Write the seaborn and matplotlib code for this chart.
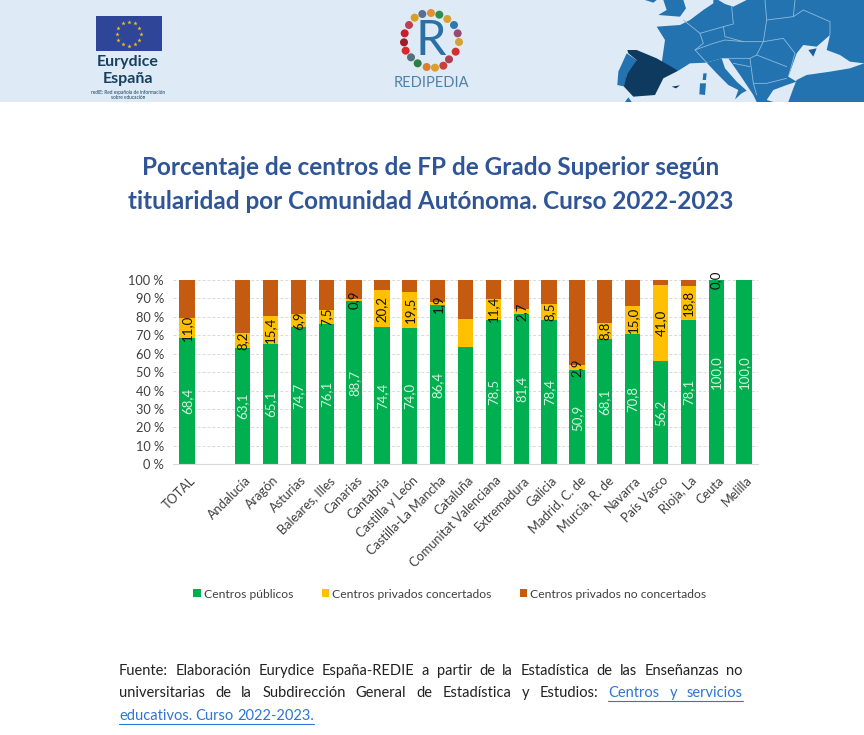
import numpy as np
import pandas as pd
import matplotlib
matplotlib.use("Agg")
import matplotlib.pyplot as plt
import seaborn as sns
from matplotlib.patches import Polygon, Circle, Rectangle
from matplotlib.transforms import ScaledTranslation

# datos
comunidades = ["TOTAL", " ", "Andalucía", "Aragón", "Asturias", "Baleares, Illes", "Canarias",
               "Cantabria", "Castilla y León", "Castilla-La Mancha", "Cataluña",
               "Comunitat Valenciana", "Extremadura", "Galicia", "Madrid, C. de",
               "Murcia, R. de", "Navarra", "País Vasco", "Rioja, La", "Ceuta", "Melilla"]
publicos = [68.4, 0, 63.1, 65.1, 74.7, 76.1, 88.7, 74.4, 74.0, 86.4, 63.8,
            78.5, 81.4, 78.4, 50.9, 68.1, 70.8, 56.2, 78.1, 100.0, 100.0]
concertados = [11.0, 0, 8.2, 15.4, 6.9, 7.5, 0.9, 20.2, 19.5, 1.9, 14.9,
               11.4, 2.7, 8.5, 2.9, 8.8, 15.0, 41.0, 18.8, 0.0, 0.0]
no_concertados = [20.6, 0, 28.7, 19.5, 18.4, 16.4, 10.4, 5.4, 6.5, 11.7, 21.3,
                  10.1, 15.9, 13.1, 46.2, 23.1, 14.2, 2.8, 3.1, 0.0, 0.0]
sin_etiqueta_pub = [" ", "Cataluña"]
sin_etiqueta_con = [" ", "Cataluña", "Melilla"]
ticks_y = list(range(0, 101, 10))

VERDE, AMARILLO, MARRON = "#00B050", "#FFC000", "#C55A11"
AZUL_TITULO = "#2F5597"

df = pd.DataFrame({"com": comunidades, "pub": publicos, "con": concertados, "noc": no_concertados})
df["base2"] = df["pub"] + df["con"]

sns.set_theme(style="white")
plt.rcParams["font.family"] = ["Lato", "DejaVu Sans"]

fig = plt.figure(figsize=(8.64, 7.35), dpi=100)

# capa de fondo en pixeles para cabecera y pie
bg = fig.add_axes([0, 0, 1, 1])
bg.set_xlim(0, 864); bg.set_ylim(735, 0); bg.axis("off")
bg.add_patch(Rectangle((0, 0), 864, 102, color="#DEEAF6", lw=0))

def m(pts):
    # coordenadas del recorte del mapa a pixeles
    return [(600 + x / 3, y / 3) for x, y in pts]

AZ = "#2273B0"
tierra = [
    [(340,0),(792,0),(792,190),(750,185),(720,165),(680,150),(690,105),(650,140),(610,135),(590,160),
     (565,230),(590,245),(560,255),(520,270),(500,300),(520,306),(470,306),(460,285),(420,225),(385,175),
     (365,175),(320,188),(270,190),(235,212),(185,190),(195,120),(170,80),(240,75),(270,60),(310,30),(340,10)],
    [(320,188),(365,175),(375,205),(410,245),(440,272),(425,280),(405,298),(415,270),(385,255),(350,220)],
    [(792,190),(750,205),(690,215),(620,225),(590,240),(580,265),(565,306),(792,306)],
    [(190,0),(250,0),(258,25),(240,50),(175,45),(200,30)],
    [(135,0),(170,0),(160,8)],
    [(80,160),(110,180),(95,210),(80,225),(75,260),(52,255),(55,215)],
    [(310,220),(320,220),(318,240),(308,240)],
    [(300,250),(318,250),(315,285),(298,283)],
    [(75,306),(85,292),(95,306)],
]
for p in tierra:
    bg.add_patch(Polygon(m(p), closed=True, color=AZ, lw=0))
bg.add_patch(Polygon(m([(355,0),(440,0),(400,20),(375,12)]), closed=True, color="#DEEAF6", lw=0))
bg.add_patch(Polygon(m([(625,150),(650,145),(640,170)]), closed=True, color="#1B5F96", lw=0))
bg.add_patch(Polygon(m([(82,150),(110,150),(170,175),(235,212),(190,235),(165,285),(100,290),(72,260),
                        (80,225),(110,180),(85,160)]), closed=True, color="#0F3A5F", lw=0))
bg.add_patch(Polygon(m([(215,260),(240,256),(228,265)]), closed=True, color="#0F3A5F", lw=0))
fronteras = [
    [(250,60),(300,100),(310,130),(285,150),(320,188)],
    [(300,100),(370,80),(400,72),(395,20)],
    [(370,80),(375,110),(430,125),(490,125),(470,165),(450,175),(385,175)],
    [(490,125),(500,60),(580,50),(610,30),(690,65),(690,105)],
    [(500,60),(495,0)], [(580,50),(585,0)], [(490,125),(550,115),(585,160),(565,230)],
    [(470,165),(560,200)], [(285,150),(340,130),(375,120),(430,125)],
    [(450,175),(460,250),(500,250),(560,235)], [(400,190),(450,200)], [(460,250),(470,285)],
]
for f in fronteras:
    xy = np.array(m(f))
    bg.plot(xy[:, 0], xy[:, 1], color="#8DBBDD", lw=0.6)

# logo Eurydice
bg.add_patch(Rectangle((95.5, 16), 66, 35, color="#2E4598", lw=0))
ang = np.deg2rad(np.arange(0, 360, 30))
bg.scatter(128.5 + 12 * np.cos(ang), 33.5 + 12 * np.sin(ang), marker="*", s=11, color="#F0C020", lw=0, zorder=3)
bg.text(128, 62, "Eurydice", ha="center", va="center", fontsize=11.5, fontweight="bold", color="#17405F")
bg.text(128, 78.5, "España", ha="center", va="center", fontsize=11.5, fontweight="bold", color="#17405F")
bg.text(128, 92, "redIE: Red española de información", ha="center", va="center", fontsize=3.4, color="#17405F")
bg.text(128, 97.5, "sobre educación", ha="center", va="center", fontsize=3.4, color="#17405F")

# logo Redipedia
colores_anillo = ["#C8202A", "#A01C2A", "#D8282A", "#54707A", "#2E7D46", "#D88030", "#D8A030", "#C84040",
                  "#B04050", "#D03030", "#D8A030", "#9A4A70", "#2C78B0", "#D8A030", "#2E8C50", "#E09030",
                  "#5A7090", "#D8A020", "#C04050"]
pos_anillo = [(59, 100), (57, 127), (62, 152), (78, 172), (98, 190), (125, 201), (150, 203), (175, 197),
              (192, 178), (212, 155), (222, 126), (218, 100), (207, 75), (187, 57), (163, 44), (138, 39),
              (112, 42), (89, 53), (72, 75)]
for (px, py), c in zip(pos_anillo, colores_anillo):
    bg.add_patch(Circle((385 + px / 3, py / 3), 4, color=c, lw=0))
bg.text(431, 41, "R", ha="center", va="center", fontsize=35, color="#2A6FA5")
bg.text(431, 83, "REDIPEDIA", ha="center", va="center", fontsize=10.5, color="#4F80A8")

# titulo
bg.text(431, 167, "Porcentaje de centros de FP de Grado Superior según", ha="center", va="center",
        fontsize=17.5, fontweight="bold", color=AZUL_TITULO)
bg.text(431, 201, "titularidad por Comunidad Autónoma. Curso 2022-2023", ha="center", va="center",
        fontsize=17.5, fontweight="bold", color=AZUL_TITULO)

# grafico
ax = fig.add_axes([173 / 864, 1 - 464.3 / 735, 585 / 864, 184.3 / 735])
ax.patch.set_alpha(0)
ANCHO = 0.55
sns.barplot(data=df, x="com", y="pub", order=comunidades, color=VERDE, width=ANCHO, saturation=1, linewidth=0,
            errorbar=None, label="Centros públicos", ax=ax, zorder=2)
sns.barplot(data=df, x="com", y="con", order=comunidades, color=AMARILLO, width=ANCHO, saturation=1, linewidth=0,
            errorbar=None, bottom=df["pub"].values, label="Centros privados concertados", ax=ax, zorder=2)
sns.barplot(data=df, x="com", y="noc", order=comunidades, color=MARRON, width=ANCHO, saturation=1, linewidth=0,
            errorbar=None, bottom=df["base2"].values, label="Centros privados no concertados", ax=ax, zorder=2)

ax.set_xlim(-0.5, len(comunidades) - 0.5)
ax.set_ylim(0, 100)
ax.set_yticks(ticks_y)
ax.set_yticklabels([f"{t} %" for t in ticks_y], fontsize=9.2, color="#404040")
ax.set_xlabel(""); ax.set_ylabel("")
ax.set_xticks(range(len(comunidades)))
ax.set_xticklabels(comunidades, rotation=45, ha="right", rotation_mode="anchor", fontsize=9.2, color="#404040")
ax.tick_params(axis="y", length=0, pad=6.5)
ax.tick_params(axis="x", length=0, pad=5)
desplaza = ScaledTranslation(2 / 100, -3 / 100, fig.dpi_scale_trans)
for etiqueta in ax.get_xticklabels():
    etiqueta.set_transform(etiqueta.get_transform() + desplaza)
ax.grid(axis="y", color="#D9D9D9", ls=(0, (3, 2)), lw=0.7, zorder=0)
ax.set_axisbelow(True)
for s in ["top", "left", "right"]:
    ax.spines[s].set_visible(False)
ax.spines["bottom"].set_color("#D9D9D9")
ax.spines["bottom"].set_linewidth(0.8)

# etiquetas de datos
fmt = lambda v: f"{v:.1f}".replace(".", ",")
lab_pub = ["" if c in sin_etiqueta_pub else fmt(v) for c, v in zip(comunidades, publicos)]
lab_con = ["" if c in sin_etiqueta_con else fmt(v) for c, v in zip(comunidades, concertados)]
ax.bar_label(ax.containers[0], labels=lab_pub, label_type="center", rotation=90, fontsize=9.5, color="#D5EFDF")
ax.bar_label(ax.containers[1], labels=lab_con, label_type="center", rotation=90, fontsize=9.5, color="#111111")

h, l = ax.get_legend_handles_labels()
ax.legend(h[:3], l[:3], loc="center", bbox_to_anchor=(450 / 864, 1 - 594 / 735), bbox_transform=fig.transFigure,
          ncol=3, frameon=False, fontsize=8.7, handlelength=0.6, handleheight=0.6, handletextpad=0.3,
          columnspacing=2.3, labelcolor="#404040")

# pie de pagina justificado
X0, X1 = 119, 743
NEGRO, ENLACE = "#222222", "#2E75D6"
lineas = [
    (671, "Fuente: Elaboración Eurydice España-REDIE a partir de la Estadística de las Enseñanzas no", 0, True),
    (693, "universitarias de la Subdirección General de Estadística y Estudios: Centros y servicios", 9, True),
    (716, "educativos. Curso 2022-2023.", 0, False),
]
fig.canvas.draw()
rend = fig.canvas.get_renderer()
for y, linea, n_negro, justificar in lineas:
    palabras = linea.split()
    textos = [bg.text(0, y, w, fontsize=10.5, va="center", ha="left") for w in palabras]
    anchos = [t.get_window_extent(rend).width for t in textos]
    hueco = (X1 - X0 - sum(anchos)) / (len(palabras) - 1) if justificar else 3.4
    x = X0
    for i, (t, w) in enumerate(zip(textos, anchos)):
        es_enlace = (n_negro > 0 and i >= n_negro) or y == 716
        t.set_x(x)
        t.set_color(ENLACE if es_enlace else NEGRO)
        if es_enlace:
            fin = x + w + (hueco if i < len(palabras) - 1 else 0)
            bg.plot([x, fin], [y + 8, y + 8], color=ENLACE, lw=0.8)
        x += w + hueco

fig.savefig("out.png", dpi=100)
